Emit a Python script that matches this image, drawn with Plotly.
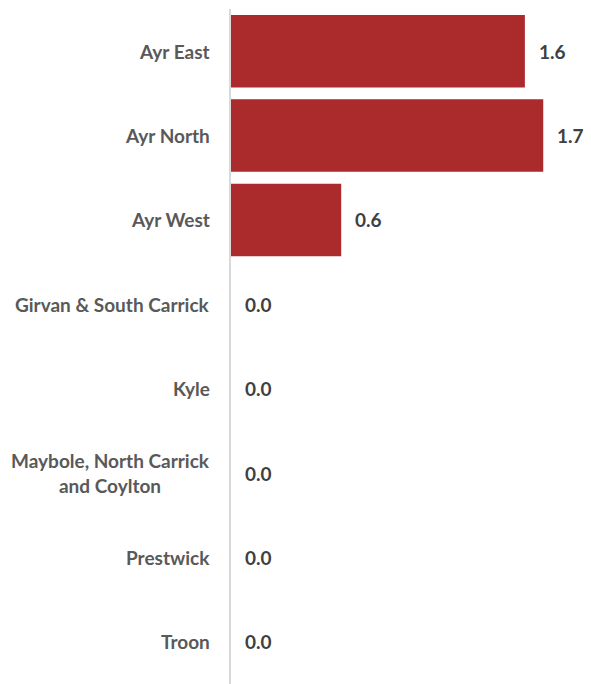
import plotly.graph_objects as go

# Ward names (top to bottom) and their values
wards = [
    "Ayr East",
    "Ayr North",
    "Ayr West",
    "Girvan & South Carrick",
    "Kyle",
    "Maybole, North Carrick<br>and Coylton",
    "Prestwick",
    "Troon",
]
values = [1.6, 1.7, 0.6, 0.0, 0.0, 0.0, 0.0, 0.0]
value_labels = ["1.6", "1.7", "0.6", "0.0", "0.0", "0.0", "0.0", "0.0"]

BAR_COLOR = "#AB2A2C"
FONT = "Lato"

fig = go.Figure(
    go.Bar(
        x=values,
        y=wards,
        orientation="h",
        marker=dict(color=BAR_COLOR, line=dict(width=0)),
        width=0.86,
        hoverinfo="skip",
    )
)

# Value labels just right of each bar end
for w, v, t in zip(wards, values, value_labels):
    fig.add_annotation(
        x=v, y=w, xref="x", yref="y",
        text=f"<b>{t}</b>", showarrow=False,
        xanchor="left", yanchor="middle", xshift=12,
        font=dict(family=FONT, size=19, color="#404040"),
    )

# Category labels, centred per line for wrapped names
for w in wards:
    fig.add_annotation(
        x=0, y=w, xref="paper", yref="y",
        text=f"<b>{w}</b>", showarrow=False,
        xanchor="right", yanchor="middle", xshift=-19,
        align="center",
        font=dict(family=FONT, size=19, color="#595959"),
    )

fig.update_layout(
    width=591,
    height=684,
    margin=dict(l=231, r=0, t=9, b=0),
    paper_bgcolor="white",
    plot_bgcolor="white",
    showlegend=False,
    bargap=0.14,
    xaxis=dict(
        range=[0, 1.96],
        showgrid=False,
        zeroline=False,
        showticklabels=False,
        showline=False,
        fixedrange=True,
    ),
    yaxis=dict(
        categoryorder="array",
        categoryarray=wards[::-1],
        showticklabels=False,
        showgrid=False,
        zeroline=False,
        showline=True,
        linecolor="#D9D9D9",
        linewidth=2,
        ticks="",
        fixedrange=True,
    ),
)

fig.write_html("out.html")
